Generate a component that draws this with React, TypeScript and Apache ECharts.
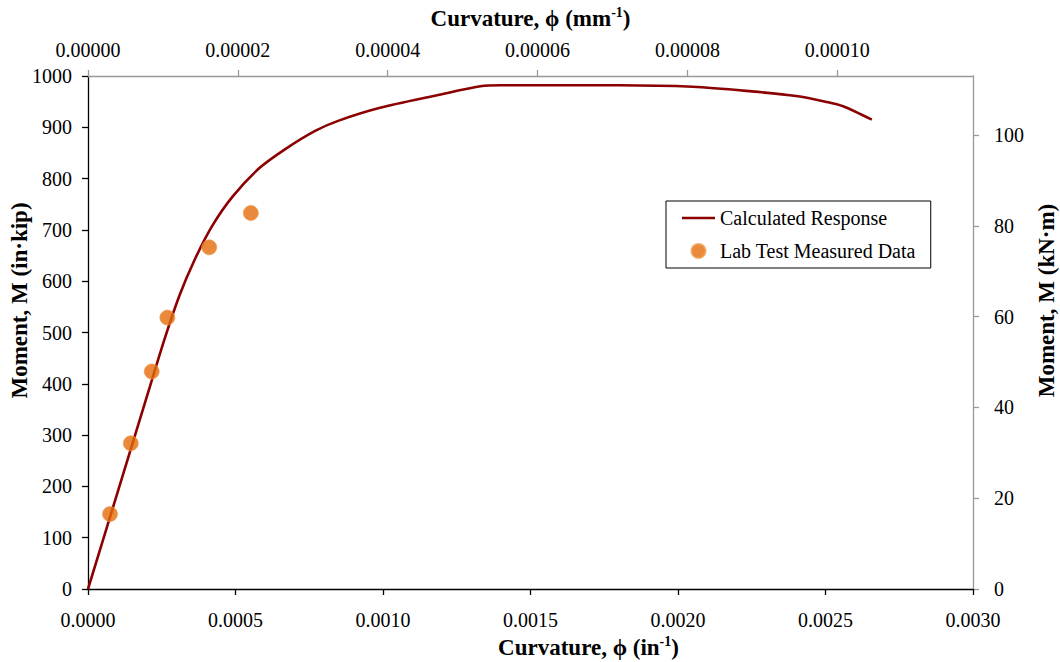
import React, { useEffect, useRef } from "react";
import * as echarts from "echarts";

// Calculated response (curvature in 1/in, moment in in·kip)
const calcCurvature = [0, 0.0001, 0.0002, 0.00026, 0.00031, 0.00036, 0.00042, 0.00049, 0.00058, 0.00067, 0.00077, 0.00085, 0.00099, 0.00118, 0.00133, 0.0014, 0.00155, 0.0018, 0.00205, 0.00225, 0.0024, 0.0025, 0.00256, 0.002657];
const calcMoment = [0, 188, 376, 488, 572, 640, 707, 765, 820, 858, 893, 913, 938, 962, 980, 982, 982, 982, 979, 970, 961, 950, 941, 915];

// Lab test measured data
const testCurvature = [0.0000746, 0.000145, 0.000216, 0.000269, 0.000411, 0.000552];
const testMoment = [146, 284, 424, 529, 666, 733];

const IN_PER_MM = 25.4;
const KNM_PER_INKIP = 0.112985;

const FONT = "'Liberation Serif', 'Times New Roman', serif";

export default function App() {
  const ref = useRef<HTMLDivElement>(null);
  useEffect(() => {
    if (!ref.current) return;
    const chart = echarts.init(ref.current, null, { renderer: "svg" });
    const tickRich = { t: { fontFamily: FONT, fontSize: 20, color: "#000" } };
    const tick = { fontFamily: FONT, fontSize: 20, color: "#000", rich: tickRich };
    const titleRich = (shiftPad: number[]) => ({
      fontFamily: FONT,
      padding: shiftPad,
      rich: {
        b: { fontFamily: FONT, fontSize: 23, fontWeight: "bold", color: "#000", lineHeight: 26 },
        s: { fontFamily: FONT, fontSize: 14, fontWeight: "bold", color: "#000", verticalAlign: "top", lineHeight: 15 },
      },
    });
    chart.setOption({
      animation: false,
      backgroundColor: "#fff",
      textStyle: { fontFamily: FONT },
      grid: { left: 88, right: 87, top: 76, bottom: 73, containLabel: false, outerBoundsMode: "none" },
      legend: {
        orient: "vertical",
        left: 666,
        top: 201,
        padding: [7, 15, 7, 16],
        itemGap: 13,
        itemWidth: 33,
        itemHeight: 14,
        borderColor: "#000",
        borderWidth: 1,
        borderRadius: 0,
        backgroundColor: "#fff",
        textStyle: { fontFamily: FONT, fontSize: 20, color: "#000" },
        data: [
          { name: "Calculated Response", icon: "path://M0 0H0.01V14H0ZM0 5.7H33V8.3H0Z", itemStyle: { color: "#8B0000" } },
          { name: "Lab Test Measured Data", icon: "circle" },
        ],
      },
      xAxis: [
        {
          type: "value",
          position: "bottom",
          min: 0,
          max: 0.003,
          interval: 0.0005,
          axisLine: { onZero: false, lineStyle: { color: "#000", width: 1.3 } },
          axisTick: { length: 6, lineStyle: { color: "#000", width: 1.3 } },
          axisLabel: { ...tick, margin: 21, formatter: (v: number) => `{t|${v.toFixed(4)}}` },
          splitLine: { show: false },
          name: "{b|Curvature, ϕ (in}{s|-1}{b|)}",
          nameLocation: "middle",
          nameGap: 45,
          nameMoveOverlap: false,
          nameTextStyle: titleRich([0, 0, 0, 116]),
        },
        {
          type: "value",
          position: "top",
          min: 0,
          max: 0.003 / IN_PER_MM,
          interval: 0.00002,
          axisLine: { onZero: false, lineStyle: { color: "#999", width: 1.3 } },
          axisTick: { length: 6, lineStyle: { color: "#999", width: 1.3 } },
          axisLabel: { ...tick, margin: 16, showMaxLabel: false, formatter: (v: number) => `{t|${v.toFixed(5)}}` },
          splitLine: { show: false },
          name: "{b|Curvature, ϕ (mm}{s|-1}{b|)}",
          nameLocation: "middle",
          nameGap: 45,
          nameMoveOverlap: false,
          nameTextStyle: titleRich([0, 0, 0, 0]),
        },
      ],
      yAxis: [
        {
          type: "value",
          position: "left",
          min: 0,
          max: 1000,
          interval: 100,
          axisLine: { onZero: false, lineStyle: { color: "#000", width: 1.3 } },
          axisTick: { length: 6, lineStyle: { color: "#000", width: 1.3 } },
          axisLabel: { ...tick, margin: 16, formatter: (v: number) => `{t|${v}}` },
          splitLine: { show: false },
          name: "{b|Moment, M (in·kip)}",
          nameLocation: "middle",
          nameGap: 56,
          nameMoveOverlap: false,
          nameTextStyle: titleRich([0, 0, 0, 64]),
        },
        {
          type: "value",
          position: "right",
          min: 0,
          max: 1000 * KNM_PER_INKIP,
          interval: 20,
          axisLine: { onZero: false, lineStyle: { color: "#999", width: 1.3 } },
          axisTick: { length: 6, lineStyle: { color: "#999", width: 1.3 } },
          axisLabel: { ...tick, margin: 21, showMaxLabel: false, formatter: (v: number) => `{t|${v}}` },
          splitLine: { show: false },
          name: "{b|Moment, M (kN·m)}",
          nameLocation: "middle",
          nameGap: 60,
          nameMoveOverlap: false,
          nameTextStyle: titleRich([0, 0, 0, 64]),
        },
      ],
      series: [
        {
          name: "Calculated Response",
          type: "line",
          xAxisIndex: 0,
          yAxisIndex: 0,
          data: calcCurvature.map((c, i) => [c, calcMoment[i]]),
          symbol: "none",
          smooth: 0.3,
          lineStyle: { color: "#8B0000", width: 2.6 },
          itemStyle: { color: "#8B0000" },
          z: 2,
        },
        {
          name: "Lab Test Measured Data",
          type: "scatter",
          xAxisIndex: 0,
          yAxisIndex: 0,
          data: testCurvature.map((c, i) => [c, testMoment[i]]),
          symbol: "circle",
          symbolSize: 15,
          itemStyle: { color: "#E46C0A", borderColor: "#EF9C50", borderWidth: 0.8 },
          z: 3,
        },
      ],
    });
    return () => chart.dispose();
  }, []);
  return (
    <div
      ref={ref}
      style={{ position: "fixed", left: 0, top: 0, width: 1060, height: 662, background: "#fff" }}
    />
  );
}
